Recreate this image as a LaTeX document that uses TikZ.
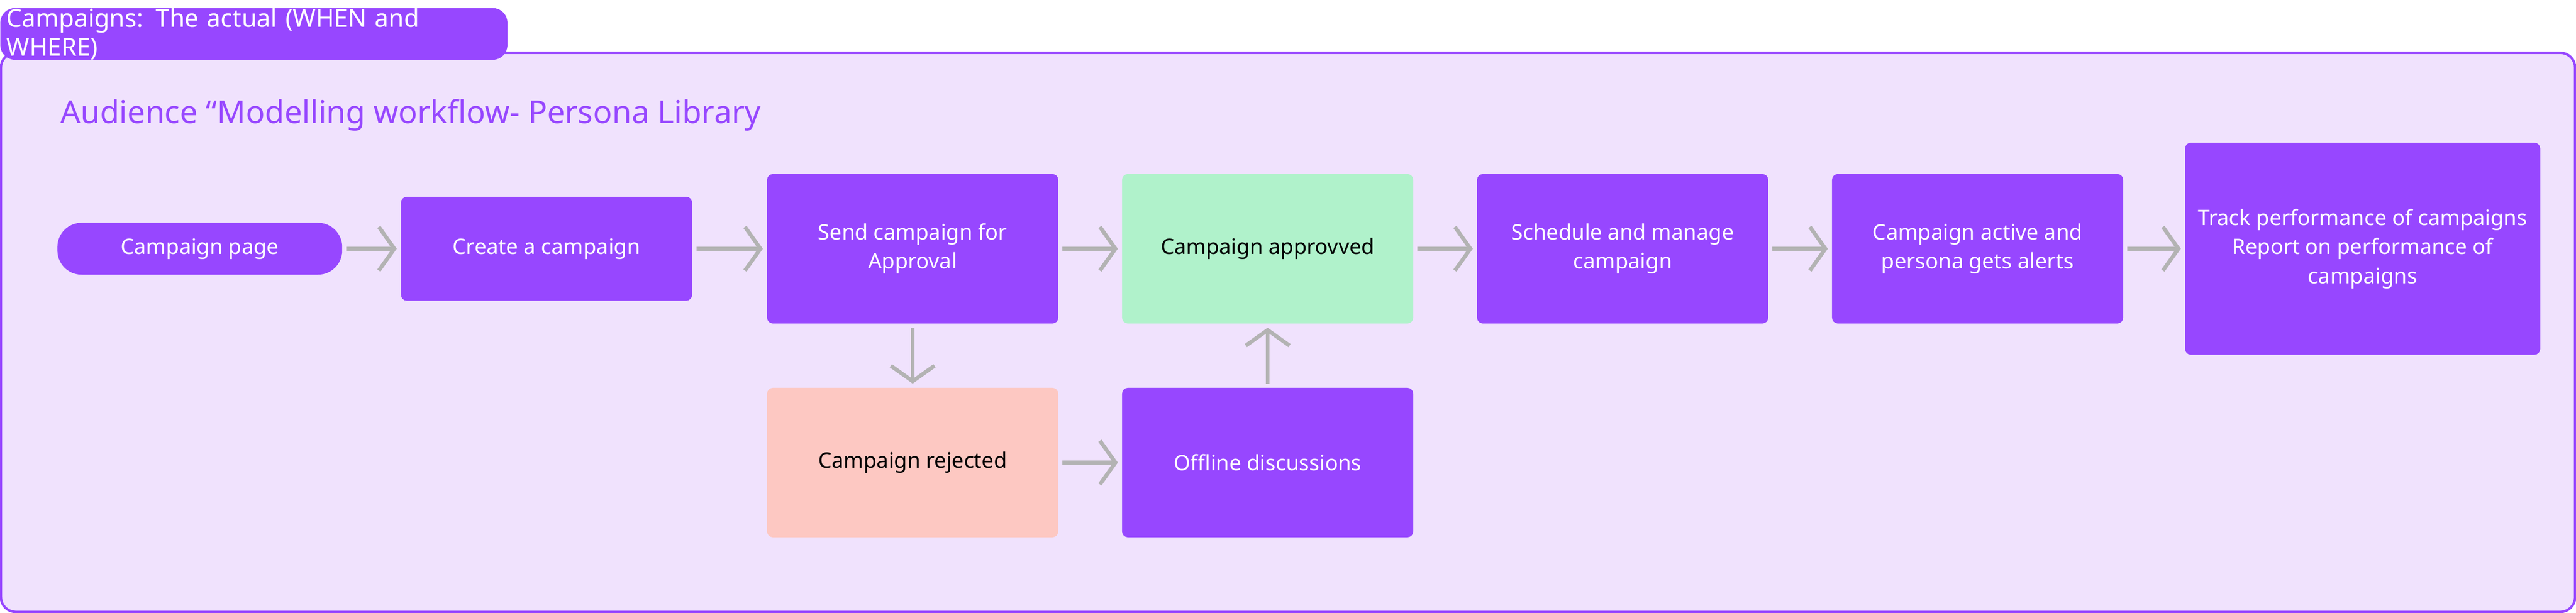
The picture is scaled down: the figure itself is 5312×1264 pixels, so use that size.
\documentclass[tikz,border=0pt]{standalone}
\usepackage{fontspec}
\setmainfont{Noto Sans}
\usetikzlibrary{arrows.meta}
\definecolor{violet}{HTML}{9747FF}
\definecolor{lilac}{HTML}{F0E2FD}
\definecolor{mint}{HTML}{B0F2CB}
\definecolor{salmon}{HTML}{FDC8C2}
\definecolor{arrowgray}{HTML}{B3B3B3}
\begin{document}
\begin{tikzpicture}
    [x=0.01cm, y=-0.01cm,
      stage/.style={rectangle, rounded corners=0.12cm, fill=violet, text=white,
        minimum width=6cm, minimum height=3.08cm, align=center,
        font=\fontsize{12.5}{17}\selectfont, inner sep=0pt},
      flow/.style={-{Straight Barb[length=0.32cm, width=0.9cm]}, line width=0.08cm, draw=arrowgray}]
    \useasboundingbox (0,0) rectangle (5312,1264);
    % outer frame
    \draw[violet, line width=0.05cm, fill=lilac, rounded corners=0.3cm] (2,109) rectangle (5310,1262);
    \node[fill=violet, text=white, rounded corners=0.3cm, anchor=north west, inner sep=0pt,
      minimum width=10.45cm, minimum height=0.76cm, text width=10.2cm, align=left,
      font=\fontsize{14.5}{17}\selectfont] (title) at (0,16) {Campaigns: The actual (WHEN and WHERE)};
    \node[text=violet, anchor=west, font=\fontsize{18.5}{22}\selectfont] (sub) at (112,237)
      {Audience “Modelling workflow- Persona Library};
    % stages
    \node[stage, rounded corners=0.5cm, minimum width=5.87cm, minimum height=1.07cm] (page) at (412,513) {Campaign page};
    \node[stage, minimum height=2.14cm] (create) at (1127,513) {Create a campaign};
    \node[stage] (send) at (1882,513) {Send campaign for\\Approval};
    \node[stage, fill=mint, text=black] (approved) at (2614,513) {Campaign approvved};
    \node[stage] (schedule) at (3346,513) {Schedule and manage\\campaign};
    \node[stage] (active) at (4078,513) {Campaign active and\\persona gets alerts};
    \node[stage, minimum width=7.32cm, minimum height=4.37cm] (track) at (4872,513)
      {Track performance of campaigns\\Report on performance of\\campaigns};
    \node[stage, fill=salmon, text=black] (rejected) at (1882,954) {Campaign rejected};
    \node[stage] (offline) at (2614,954) {Offline discussions};
    % connectors
    \draw[flow] ([xshift=0.08cm]page.east) -- ([xshift=-0.08cm]create.west);
    \draw[flow] ([xshift=0.08cm]create.east) -- ([xshift=-0.08cm]send.west);
    \draw[flow] ([xshift=0.08cm]send.east) -- ([xshift=-0.08cm]approved.west);
    \draw[flow] ([xshift=0.08cm]approved.east) -- ([xshift=-0.08cm]schedule.west);
    \draw[flow] ([xshift=0.08cm]schedule.east) -- ([xshift=-0.08cm]active.west);
    \draw[flow] ([xshift=0.08cm]active.east) -- ([xshift=-0.08cm]track.west);
    \draw[flow] ([yshift=-0.08cm]send.south) -- ([yshift=0.08cm]rejected.north);
    \draw[flow] ([xshift=0.08cm]rejected.east) -- ([xshift=-0.08cm]offline.west);
    \draw[flow] ([yshift=0.08cm]offline.north) -- ([yshift=-0.08cm]approved.south);
\end{tikzpicture}
\end{document}
